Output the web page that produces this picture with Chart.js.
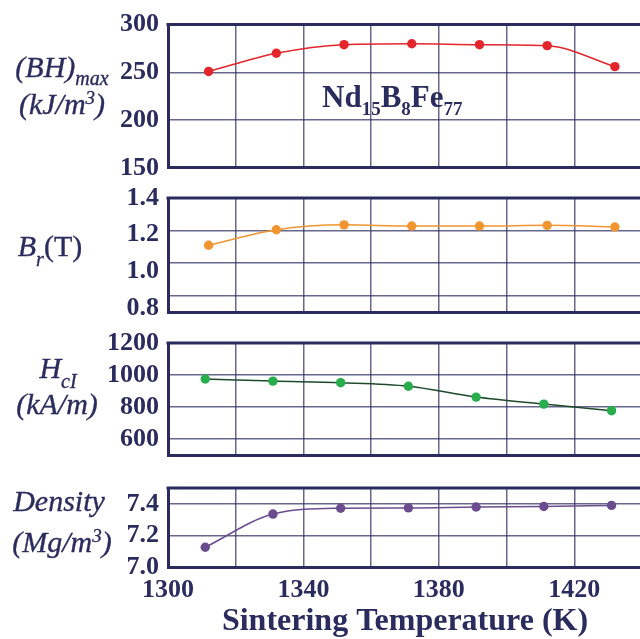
<!DOCTYPE html>
<html lang="en">
<head>
<meta charset="UTF-8" />
<title>Nd15B8Fe77 – properties vs sintering temperature</title>
<script src="https://cdn.jsdelivr.net/npm/chart.js"></script>
<style>
  html, body { margin: 0; padding: 0; background: #fff; overflow: hidden; }
  .wrap { position: relative; width: 640px; height: 639px; overflow: hidden; }
  .wrap canvas { position: absolute; left: 0; top: 0; }
  .lbl {
    position: absolute; width: 200px; text-align: center; white-space: nowrap;
    font-family: "Liberation Serif", "Times New Roman", serif;
    font-style: italic; font-size: 30px; line-height: 1; color: #2b2c5e;
    -webkit-text-stroke: 0.35px #2b2c5e;
  }
  .lbl sub { font-size: 20px; vertical-align: -8px; line-height: 0; }
  .lbl sup { font-size: 19px; vertical-align: 10px; line-height: 0; }
  .lbl .up { font-style: normal; }
  .alloy {
    position: absolute; left: 322px; top: 81px; white-space: nowrap;
    font-family: "Liberation Serif", "Times New Roman", serif;
    font-weight: bold; font-size: 31px; line-height: 1; color: #2b2c5e;
  }
  .alloy sub { font-size: 19px; font-weight: bold; vertical-align: -8px; line-height: 0; }
</style>
</head>
<body>
<div class="wrap">
  <canvas id="bhChart" width="642" height="639"></canvas>
  <canvas id="brChart" width="642" height="639"></canvas>
  <canvas id="hcChart" width="642" height="639"></canvas>
  <canvas id="rhoChart" width="642" height="639"></canvas>

  <div class="lbl" style="left:-38px; top:52px">(BH)<sub>max</sub></div>
  <div class="lbl" style="left:-38px; top:89px">(kJ/m<sup>3</sup>)</div>
  <div class="lbl" style="left:-50px; top:231px">B<sub style="vertical-align:-10px">r</sub><span class="up">(T)</span></div>
  <div class="lbl" style="left:-42px; top:353px">H<sub style="vertical-align:-10px">cI</sub></div>
  <div class="lbl" style="left:-43px; top:389px">(kA/m)</div>
  <div class="lbl" style="left:-41px; top:486px">Density</div>
  <div class="lbl" style="left:-38px; top:527px">(Mg/m<sup>3</sup>)</div>
  <div class="alloy">Nd<sub>15</sub>B<sub>8</sub>Fe<sub>77</sub></div>
</div>
<script>
  // sintering temperatures (K) of the samples
  const temps = [1312, 1332, 1352, 1372, 1392, 1412, 1432]
  const tempsLower = [1311, 1331, 1351, 1371, 1391, 1411, 1431]

  // measured properties
  const bhMax = [251, 270, 279, 280, 279, 278, 256]             // kJ/m3
  const remanence = [1.11, 1.205, 1.235, 1.228, 1.228, 1.232, 1.222] // T
  const coercivity = [975, 962, 952, 930, 862, 818, 777]         // kA/m
  const density = [7.125, 7.335, 7.372, 7.374, 7.38, 7.383, 7.39] // Mg/m3

  // tick labels
  const xTicks = [1300, 1340, 1380, 1420]
  const bhTicks = [150, 200, 250, 300]
  const brTicks = [0.8, 1.0, 1.2, 1.4]
  const hcTicks = [600, 800, 1000, 1200]
  const rhoTicks = [7.0, 7.2, 7.4]

  const navy = "#2b2c5e"
  const gridColor = "rgba(43,44,94,0.72)"
  const canvasH = 639
  const axisWidth = 168

  // vertical placement of each panel's plot area
  const frames = {
    bh: { top: 21, bottom: 168 },
    br: { top: 198, bottom: 312 },
    hc: { top: 343, bottom: 455 },
    rho: { top: 488, bottom: 567 },
  }

  Chart.defaults.font.family = '"Liberation Serif", "Times New Roman", serif'
  Chart.defaults.color = navy

  const tickFont = { size: 26, weight: "bold" }

  function fixedTicks(values) {
    return (scale) => {
      scale.ticks = values.map((v) => ({ value: v }))
    }
  }

  function points(xs, ys) {
    return xs.map((x, i) => ({ x, y: ys[i] }))
  }

  // thick top edge of every panel
  const topFrame = {
    id: "topFrame",
    beforeDatasetsDraw(chart) {
      const { ctx, chartArea } = chart
      ctx.save()
      ctx.strokeStyle = navy
      ctx.lineWidth = 3
      ctx.beginPath()
      ctx.moveTo(chartArea.left - 1.5, chartArea.top)
      ctx.lineTo(chartArea.right, chartArea.top)
      ctx.stroke()
      ctx.restore()
    },
  }

  function xScale(showLabels, frame) {
    return {
      type: "linear",
      min: 1300,
      max: 1440,
      grid: { color: gridColor, lineWidth: 1.5, drawTicks: false },
      border: { color: navy, width: 3 },
      ticks: {
        display: showLabels,
        stepSize: 20,
        autoSkip: false,
        maxRotation: 0,
        padding: 8,
        font: tickFont,
        color: navy,
        callback: (v) => (xTicks.includes(v) ? String(v) : ""),
      },
      title: {
        display: showLabels,
        text: "Sintering Temperature (K)",
        font: { size: 32, weight: "bold" },
        color: navy,
        padding: { top: 0, bottom: -2 },
      },
      afterFit: (scale) => {
        scale.height = showLabels ? canvasH - frame.bottom : 0
        // plot runs right up to the canvas edge
        scale.paddingLeft = 0
        scale.paddingRight = 0
      },
    }
  }

  function yScale(min, max, ticks, decimals, showGrid) {
    return {
      type: "linear",
      position: "left",
      min,
      max,
      afterBuildTicks: fixedTicks(ticks),
      afterFit: (scale) => {
        scale.width = axisWidth
      },
      grid: { display: showGrid, color: gridColor, lineWidth: 1.5, drawTicks: false },
      border: { color: navy, width: 3 },
      ticks: {
        padding: 9,
        font: tickFont,
        color: navy,
        callback: (v) => v.toFixed(decimals),
      },
    }
  }

  function series(data, pointColor, lineColor, yAxisID) {
    return {
      data,
      yAxisID: yAxisID || "y",
      borderColor: lineColor,
      borderWidth: 1.5,
      cubicInterpolationMode: "monotone",
      pointRadius: 4.7,
      pointBorderWidth: 0,
      pointBackgroundColor: pointColor,
      fill: false,
    }
  }

  function drawPanel(id, frame, dataset, yScales, showX) {
    new Chart(document.getElementById(id), {
      type: "line",
      data: { datasets: [dataset] },
      options: {
        responsive: false,
        animation: false,
        layout: {
          autoPadding: false,
          padding: { top: frame.top, bottom: showX ? 0 : canvasH - frame.bottom, left: 0, right: 0 },
        },
        plugins: { legend: { display: false }, tooltip: { enabled: false } },
        scales: Object.assign({ x: xScale(showX, frame) }, yScales),
      },
      plugins: [topFrame],
    })
  }

  // (BH)max
  drawPanel(
    "bhChart",
    frames.bh,
    series(points(temps, bhMax), "#e2262c", "#e2262c"),
    { y: yScale(150, 300, bhTicks, 0, true) },
    false
  )

  // remanence: labels sit on their own axis, grid lines on a hidden one
  drawPanel(
    "brChart",
    frames.br,
    series(points(temps, remanence), "#f0952f", "#f0952f", "yGrid"),
    {
      y: yScale(0.778, 1.4, brTicks, 1, false),
      yGrid: {
        type: "linear",
        position: "right",
        min: 0.7,
        max: 1.4,
        afterBuildTicks: fixedTicks(brTicks),
        afterFit: (scale) => {
          scale.width = 0
        },
        grid: { color: gridColor, lineWidth: 1.5, drawTicks: false },
        border: { display: false },
        ticks: { display: false },
      },
    },
    false
  )

  // coercivity
  drawPanel(
    "hcChart",
    frames.hc,
    series(points(tempsLower, coercivity), "#27ad4c", "#1e4a2b"),
    { y: yScale(500, 1200, hcTicks, 0, true) },
    false
  )

  // density
  drawPanel(
    "rhoChart",
    frames.rho,
    series(points(tempsLower, density), "#6b4c8f", "#6b4c8f"),
    { y: yScale(7.0, 7.5, rhoTicks, 1, true) },
    true
  )
</script>
</body>
</html>
